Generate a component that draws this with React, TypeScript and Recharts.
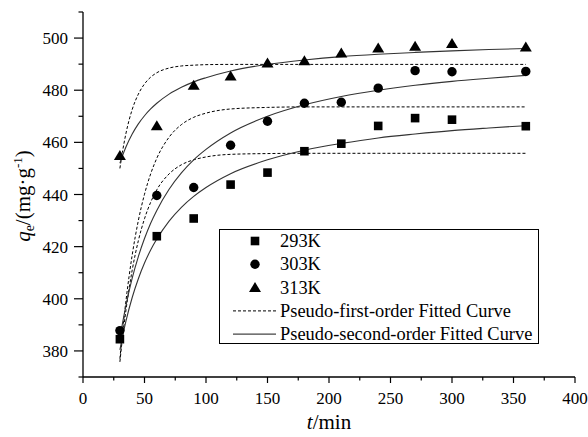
import { ComposedChart, Line, Scatter, XAxis, YAxis, Legend } from "recharts";

const FONT = "Liberation Serif, DejaVu Serif, serif";

// measured points
const TIME = [30, 60, 90, 120, 150, 180, 210, 240, 270, 300, 360];
const Q_293 = [384.5, 424.0, 430.8, 443.8, 448.4, 456.6, 459.5, 466.3, 469.3, 468.7, 466.2];
const Q_303 = [387.8, 439.6, 442.7, 458.9, 468.1, 475.0, 475.4, 480.8, 487.5, 487.1, 487.2];
const Q_313 = [455.0, 466.4, 481.9, 485.5, 490.4, 491.3, 494.3, 496.2, 496.9, 497.9, 496.6];

// fitted curves
const CURVE_T = [30, 32, 35, 40, 45, 50, 55, 60, 70, 80, 90, 100, 120, 150, 180, 210, 240, 270, 300, 330, 360];
const PFO_293 = [375.8, 384.6, 395.9, 411.0, 422.3, 430.7, 437.0, 441.8, 447.9, 451.4, 453.3, 454.4, 455.4, 455.7, 455.8, 455.8, 455.8, 455.8, 455.8, 455.8, 455.8];
const PFO_303 = [377.0, 386.7, 399.5, 416.8, 430.0, 440.1, 447.9, 453.9, 462.0, 466.8, 469.6, 471.2, 472.8, 473.4, 473.6, 473.6, 473.6, 473.6, 473.6, 473.6, 473.6];
const PFO_313 = [450.0, 456.1, 463.6, 472.6, 478.5, 482.4, 485.0, 486.7, 488.5, 489.3, 489.6, 489.8, 489.9, 489.9, 489.9, 489.9, 489.9, 489.9, 489.9, 489.9, 489.9];
const PSO_293 = [380.4, 385.2, 391.6, 400.5, 407.7, 413.7, 418.7, 422.9, 429.8, 435.1, 439.3, 442.7, 448.0, 453.3, 457.0, 459.6, 461.7, 463.2, 464.5, 465.5, 466.4];
const PSO_303 = [384.7, 390.3, 397.6, 407.9, 416.2, 423.1, 429.0, 433.9, 442.0, 448.3, 453.3, 457.3, 463.6, 470.0, 474.4, 477.6, 480.0, 481.9, 483.4, 484.6, 485.7];
const PSO_313 = [452.0, 454.7, 458.3, 463.2, 467.1, 470.2, 472.8, 475.0, 478.5, 481.1, 483.2, 484.8, 487.4, 489.9, 491.6, 492.9, 493.8, 494.5, 495.1, 495.6, 496.0];

const X_TICKS = [0, 25, 50, 75, 100, 125, 150, 175, 200, 225, 250, 275, 300, 325, 350, 375, 400];
const Y_TICKS = [370, 380, 390, 400, 410, 420, 430, 440, 450, 460, 470, 480, 490, 500, 510];

const LEGEND_ITEMS = [
  { label: "293K", kind: "square" },
  { label: "303K", kind: "circle" },
  { label: "313K", kind: "triangle" },
  { label: "Pseudo-first-order Fitted Curve", kind: "dash" },
  { label: "Pseudo-second-order Fitted Curve", kind: "solid" },
];

const curveData = CURVE_T.map((t, i) => ({
  t,
  pfo293: PFO_293[i],
  pfo303: PFO_303[i],
  pfo313: PFO_313[i],
  pso293: PSO_293[i],
  pso303: PSO_303[i],
  pso313: PSO_313[i],
}));

const pts = (qs: number[]) => TIME.map((t, i) => ({ t, q: qs[i] }));

const txt = { fontFamily: FONT };

const Square = (p: any) => <rect x={p.cx - 4.3} y={p.cy - 4.3} width={8.6} height={8.6} fill="#000" />;
const Dot = (p: any) => <circle cx={p.cx} cy={p.cy} r={4.7} fill="#000" />;
const Tri = (p: any) => (
  <polygon points={`${p.cx},${p.cy - 5.5} ${p.cx + 6},${p.cy + 4.5} ${p.cx - 6},${p.cy + 4.5}`} fill="#000" />
);

function YTick({ x, y, payload }: any) {
  const v = payload.value;
  const major = v % 20 === 0;
  return (
    <g>
      <line x1={x} x2={x - (major ? 9 : 4.5)} y1={y} y2={y} stroke="#000" strokeWidth={1.2} />
      {major && (
        <text x={x - 15} y={y + 6} textAnchor="end" fontSize={17} style={txt} fill="#000">
          {v}
        </text>
      )}
    </g>
  );
}

function XTick({ x, y, payload }: any) {
  const v = payload.value;
  const major = v % 50 === 0;
  return (
    <g>
      <line x1={x} x2={x} y1={y} y2={y + (major ? 6 : 3.5)} stroke="#000" strokeWidth={1.2} />
      {major && (
        <text x={x} y={y + 27} textAnchor="middle" fontSize={17} style={txt} fill="#000">
          {v}
        </text>
      )}
    </g>
  );
}

function LegendBox() {
  return (
    <div style={{ width: 318, height: 113, border: "1.3px solid #000", background: "#fff" }}>
      <svg width={318} height={113}>
        {LEGEND_ITEMS.map((it, i) => {
          const cy = 11 + i * 23.3;
          let mark = null;
          if (it.kind === "square") mark = <Square cx={35} cy={cy} />;
          if (it.kind === "circle") mark = <Dot cx={35} cy={cy} />;
          if (it.kind === "triangle") mark = <Tri cx={35} cy={cy} />;
          if (it.kind === "dash") mark = <line x1={13} x2={56} y1={cy} y2={cy} stroke="#000" strokeDasharray="3 2" />;
          if (it.kind === "solid") mark = <line x1={13} x2={56} y1={cy} y2={cy} stroke="#444" strokeWidth={1.2} />;
          return (
            <g key={it.label}>
              {mark}
              <text x={60} y={cy + 6} fontSize={18.4} style={txt} fill="#000">
                {it.label}
              </text>
            </g>
          );
        })}
      </svg>
    </div>
  );
}

const YLabel = () => (
  <text transform="rotate(-90, 30, 196)" x={30} y={196} textAnchor="middle" fontSize={21} style={txt} fill="#000">
    <tspan fontStyle="italic">q</tspan>
    <tspan fontSize={14} dy={4}>e</tspan>
    <tspan dy={-4}>/(mg·g</tspan>
    <tspan fontSize={13} dy={-8}>-1</tspan>
    <tspan dy={8}>)</tspan>
  </text>
);

const XLabel = () => (
  <text x={329} y={429} textAnchor="middle" fontSize={21} style={txt} fill="#000">
    <tspan fontStyle="italic">t</tspan>/min
  </text>
);

export default function App() {
  return (
    <div style={{ position: "absolute", left: 0, top: 0, background: "#fff", fontFamily: FONT }}>
      <ComposedChart width={588} height={437} margin={{ top: 12, right: 13, bottom: 0, left: 0 }}>
        <XAxis
          type="number"
          dataKey="t"
          domain={[0, 400]}
          ticks={X_TICKS}
          interval={0}
          allowDataOverflow
          height={60}
          tickSize={0}
          tickMargin={0}
          tickLine={false}
          tick={<XTick />}
          axisLine={{ stroke: "#000", strokeWidth: 1.3 }}
          label={<XLabel />}
        />
        <YAxis
          type="number"
          domain={[370, 510]}
          ticks={Y_TICKS}
          interval={0}
          allowDataOverflow
          width={83}
          tickSize={0}
          tickMargin={0}
          tickLine={false}
          tick={<YTick />}
          axisLine={{ stroke: "#000", strokeWidth: 1.3 }}
          label={<YLabel />}
        />
        <Line data={curveData} dataKey="pfo293" type="monotone" stroke="#000" strokeWidth={1} strokeDasharray="3 2" dot={false} isAnimationActive={false} />
        <Line data={curveData} dataKey="pfo303" type="monotone" stroke="#000" strokeWidth={1} strokeDasharray="3 2" dot={false} isAnimationActive={false} />
        <Line data={curveData} dataKey="pfo313" type="monotone" stroke="#000" strokeWidth={1} strokeDasharray="3 2" dot={false} isAnimationActive={false} />
        <Line data={curveData} dataKey="pso293" type="monotone" stroke="#333" strokeWidth={1.1} dot={false} isAnimationActive={false} />
        <Line data={curveData} dataKey="pso303" type="monotone" stroke="#333" strokeWidth={1.1} dot={false} isAnimationActive={false} />
        <Line data={curveData} dataKey="pso313" type="monotone" stroke="#333" strokeWidth={1.1} dot={false} isAnimationActive={false} />
        <Scatter data={pts(Q_293)} dataKey="q" shape={Square} isAnimationActive={false} />
        <Scatter data={pts(Q_303)} dataKey="q" shape={Dot} isAnimationActive={false} />
        <Scatter data={pts(Q_313)} dataKey="q" shape={Tri} isAnimationActive={false} />
        <Legend
          layout="vertical"
          align="center"
          verticalAlign="middle"
          content={<LegendBox />}
          wrapperStyle={{ left: 219, top: 229, width: 321, height: 116 }}
        />
      </ComposedChart>
    </div>
  );
}
